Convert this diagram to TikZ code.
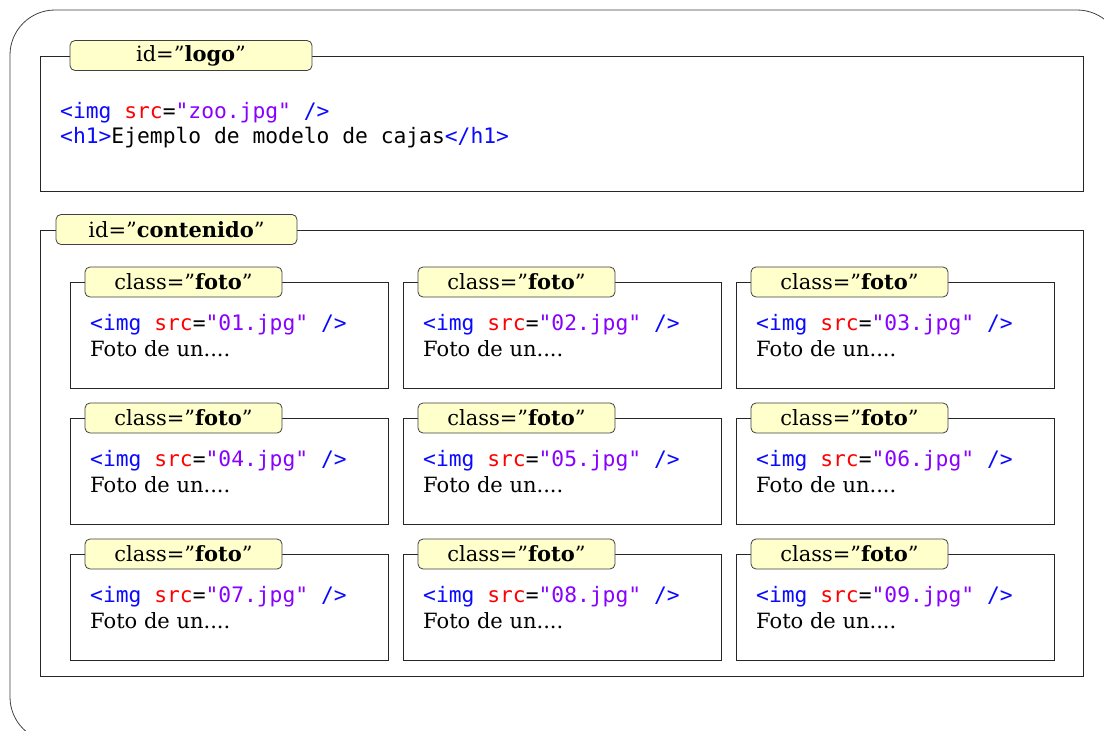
\documentclass[tikz,border=0pt]{standalone}
\usepackage{fontspec}
\setmainfont{DejaVu Serif}
\newfontfamily\codefont{DejaVu Sans Mono}
\definecolor{tagblue}{RGB}{10,10,255}
\definecolor{attrred}{RGB}{255,0,0}
\definecolor{valpurple}{RGB}{136,0,255}
\definecolor{labelfill}{RGB}{255,255,204}
\newcommand{\htag}[1]{\textcolor{tagblue}{#1}}
\newcommand{\hattr}[1]{\textcolor{attrred}{#1}}
\newcommand{\hval}[1]{\textcolor{valpurple}{#1}}
\tikzset{
  outerframe/.style={draw=black!75, line width=0.8pt, rounded corners=45pt},
  frame/.style={draw=black!85, line width=1pt, fill=white, inner sep=0pt, anchor=north west},
  labeltag/.style={draw=black!75, line width=0.8pt, fill=labelfill, rounded corners=5pt,
    inner sep=0pt, minimum height=30pt, font=\fontsize{21}{24}\selectfont},
  codetext/.style={inner sep=0pt, anchor=base west, font=\codefont\fontsize{21.3}{25}\selectfont},
  bodytext/.style={inner sep=0pt, anchor=base west, font=\fontsize{21}{24}\selectfont}
}
\begin{document}
\begin{tikzpicture}[x=1pt,y=-1pt]
\useasboundingbox (0,0) rectangle (1104,731);
\begin{scope}
\clip (0,0) rectangle (1104,731);
\draw[outerframe] (10,10) rectangle (1122,742);
\end{scope}
% logo
\node[frame, minimum width=1043pt, minimum height=135pt] (logo) at (40,56) {};
\node[labeltag, minimum width=242pt] (logolabel) at (191,55.5) {id=”\textbf{logo}”};
\node[codetext] (logocode1) at (60,118) {\htag{<img} \hattr{src}=\hval{"zoo.jpg"} \htag{/>}};
\node[codetext] (logocode2) at (60,143) {\htag{<h1>}Ejemplo de modelo de cajas\htag{</h1>}};
% contenido
\node[frame, minimum width=1043pt, minimum height=446pt] (contenido) at (40,230) {};
\node[labeltag, minimum width=241pt] (contenidolabel) at (176.5,229.5) {id=”\textbf{contenido}”};
% fotos
\foreach \r in {0,1,2} {
  \foreach \c in {0,1,2} {
    \pgfmathsetmacro{\bx}{70+333*\c}
    \pgfmathsetmacro{\by}{282+136*\r}
    \pgfmathtruncatemacro{\n}{3*\r+\c+1}
    \node[frame, minimum width=318pt, minimum height=106pt] (foto\n) at (\bx,\by) {};
    \node[labeltag, minimum width=197pt] (fotolabel\n) at (\bx+113.5,\by) {class=”\textbf{foto}”};
    \node[codetext] (fotocode\n) at (\bx+20,\by+48) {\htag{<img} \hattr{src}=\hval{"0\n.jpg"} \htag{/>}};
    \node[bodytext] (fototext\n) at (\bx+20,\by+74) {Foto de un....};
  }
}
\end{tikzpicture}
\end{document}
